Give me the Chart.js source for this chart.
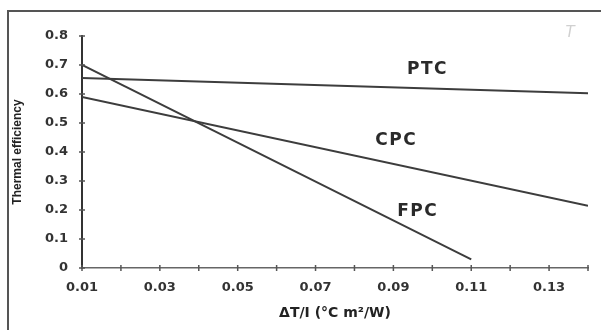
<!DOCTYPE html>
<html>
<head>
<meta charset="utf-8">
<script src="https://cdn.jsdelivr.net/npm/chart.js"></script>
<style>
  html, body { margin: 0; padding: 0; background: #fff; }
  #wrap { position: relative; width: 601px; height: 330px; }
  #frame { position: absolute; left: 7px; top: 10px; right: 0; bottom: 0;
           border-top: 2px solid #555; border-left: 2px solid #555; }
  canvas { position: absolute; left: 0; top: 0; }
</style>
</head>
<body>
<div id="wrap">
  <div id="frame"></div>
  <canvas id="efficiencyChart" width="601" height="330"></canvas>
</div>
<script>
// collector types and their straight-line efficiency curves
const seriesNames = ['PTC', 'CPC', 'FPC'];
const ptcX = [0.01, 0.14];
const ptcY = [0.655, 0.603];
const cpcX = [0.01, 0.14];
const cpcY = [0.59, 0.215];
const fpcX = [0.01, 0.11];
const fpcY = [0.70, 0.03];

// where the curve names sit, in data units
const labelX = [0.0985, 0.0905, 0.096];
const labelY = [0.683, 0.438, 0.193];

const xTickLabels = ['0.01', '0.03', '0.05', '0.07', '0.09', '0.11', '0.13'];
const yTickLabels = ['0', '0.1', '0.2', '0.3', '0.4', '0.5', '0.6', '0.7', '0.8'];

function points(xs, ys) {
    return xs.map(function (x, i) { return { x: x, y: ys[i] }; });
}

const lineColor = '#3d3d3d';
const wideFont = '"DejaVu Sans", Verdana, sans-serif';
const tickFont = { family: wideFont, size: 13, weight: 'bold' };

const data = {
    datasets: [
        { label: seriesNames[0], data: points(ptcX, ptcY) },
        { label: seriesNames[1], data: points(cpcX, cpcY) },
        { label: seriesNames[2], data: points(fpcX, fpcY) }
    ].map(function (d) {
        d.borderColor = lineColor;
        d.borderWidth = 2;
        d.pointRadius = 0;
        d.tension = 0;
        return d;
    })
};

// small tick marks crossing both axes, plus the curve names
const extras = {
    id: 'extras',
    afterDraw: function (chart) {
        const ctx = chart.ctx;
        const xs = chart.scales.x;
        const ys = chart.scales.y;
        const area = chart.chartArea;
        ctx.save();
        ctx.strokeStyle = '#555';
        ctx.lineWidth = 1.5;
        ys.ticks.forEach(function (t) {
            const py = ys.getPixelForValue(t.value);
            ctx.beginPath();
            ctx.moveTo(area.left - 3, py);
            ctx.lineTo(area.left + 3, py);
            ctx.stroke();
        });
        xs.ticks.forEach(function (t) {
            const px = xs.getPixelForValue(t.value);
            ctx.beginPath();
            ctx.moveTo(px, area.bottom - 3);
            ctx.lineTo(px, area.bottom + 3);
            ctx.stroke();
        });
        ctx.fillStyle = '#2a2a2a';
        ctx.font = 'bold 17px ' + wideFont;
        ctx.letterSpacing = '1.5px';
        ctx.textAlign = 'center';
        ctx.textBaseline = 'middle';
        seriesNames.forEach(function (name, i) {
            ctx.fillText(name, xs.getPixelForValue(labelX[i]) + 1, ys.getPixelForValue(labelY[i]));
        });
        // faint scan mark in the top right corner
        ctx.letterSpacing = '0px';
        ctx.fillStyle = '#d0d0d0';
        ctx.font = 'italic 15px ' + wideFont;
        ctx.fillText('T', 570, 33);
        ctx.restore();
    }
};

const config = {
    type: 'line',
    data: data,
    options: {
        responsive: false,
        animation: false,
        layout: { padding: { top: 36, right: 13, left: 0, bottom: 0 } },
        plugins: { legend: { display: false }, tooltip: { enabled: false } },
        scales: {
            x: {
                type: 'linear',
                min: 0.01,
                max: 0.14,
                grid: { display: false, drawTicks: false },
                border: { display: true, color: '#666', width: 1.5 },
                ticks: {
                    stepSize: 0.01,
                    padding: 12,
                    autoSkip: false,
                    maxRotation: 0,
                    color: '#333',
                    font: tickFont,
                    callback: function (value) {
                        const s = value.toFixed(2);
                        return xTickLabels.indexOf(s) >= 0 ? s : '';
                    }
                },
                title: {
                    display: true,
                    text: 'ΔT/I (°C m²/W)',
                    color: '#222',
                    font: { family: wideFont, size: 14, weight: 'bold' },
                    padding: { top: 8, bottom: 8 }
                },
                afterFit: function (scale) { scale.height = 62; }
            },
            y: {
                min: 0,
                max: 0.8,
                grid: { display: false, drawTicks: false },
                border: { display: true, color: '#333', width: 2 },
                ticks: {
                    stepSize: 0.1,
                    padding: 14,
                    color: '#333',
                    font: tickFont,
                    callback: function (value) {
                        const s = value === 0 ? '0' : value.toFixed(1);
                        return yTickLabels.indexOf(s) >= 0 ? s : '';
                    }
                },
                title: {
                    display: true,
                    text: 'Thermal efficiency',
                    color: '#222',
                    font: { family: 'Liberation Sans, Arial, sans-serif', size: 12, weight: 'bold' },
                    padding: { top: 10, bottom: 0 }
                },
                afterFit: function (scale) { scale.width = 82; }
            }
        }
    },
    plugins: [extras]
};

new Chart(document.getElementById('efficiencyChart'), config);
</script>
</body>
</html>
